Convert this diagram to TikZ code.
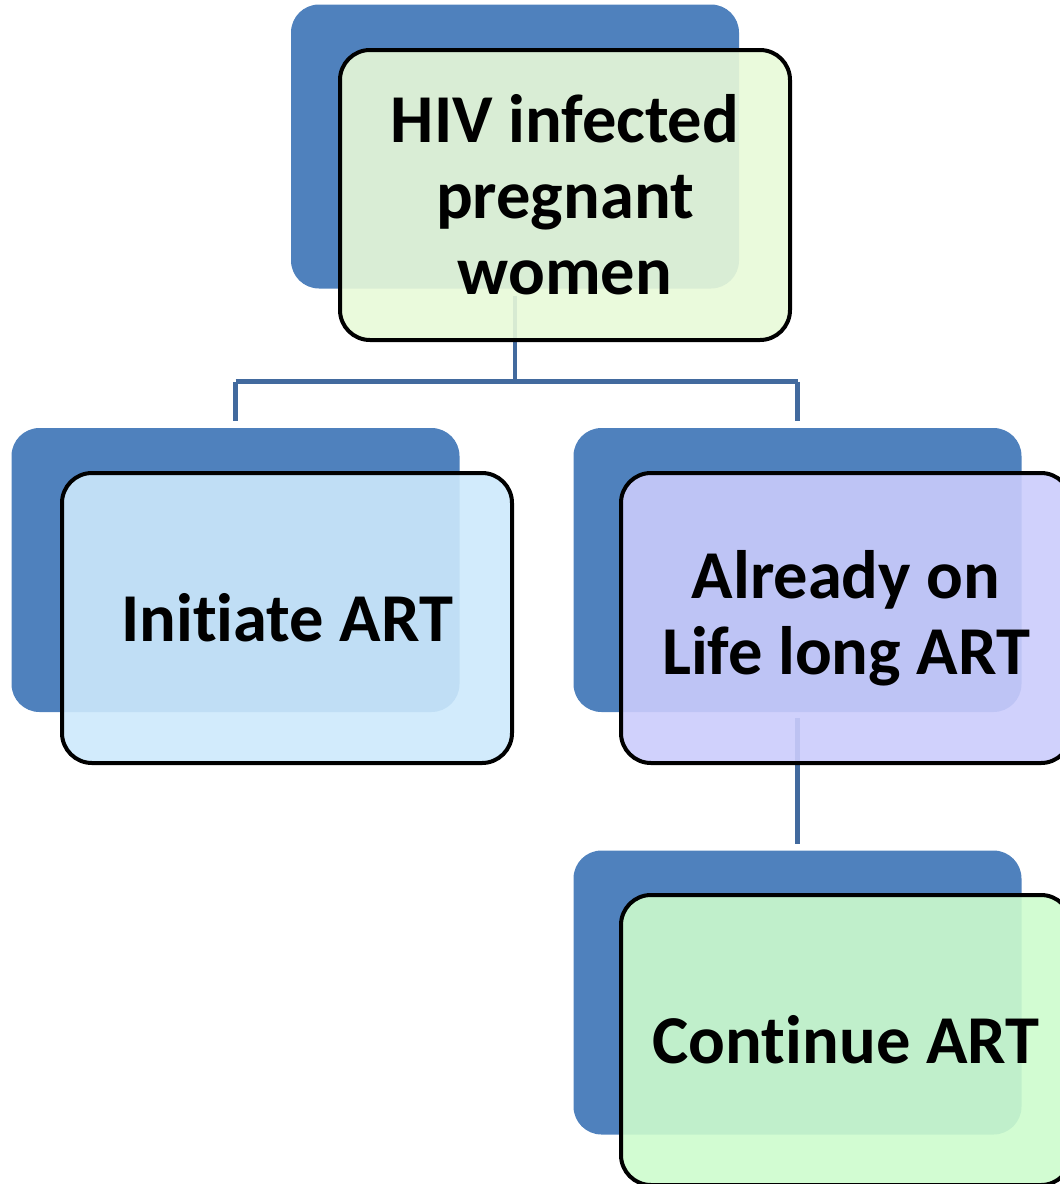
\documentclass[tikz,border=0pt]{standalone}
\usepackage{fontspec}
\setmainfont{Carlito}[Ligatures={NoCommon}]
\definecolor{backblue}{RGB}{79,129,189}
\definecolor{connblue}{RGB}{66,106,158}
\definecolor{fillA}{RGB}{232,249,216}
\definecolor{fillB}{RGB}{205,233,252}
\definecolor{fillC}{RGB}{203,204,252}
\definecolor{fillD}{RGB}{205,252,205}
\begin{document}
\begin{tikzpicture}[x=1pt,y=-1pt,
  backbox/.style={rectangle, fill=backblue, draw=none, minimum width=448pt, minimum height=284pt, inner sep=0pt, rounded corners=28pt},
  frontbox/.style={rectangle, draw=black, line width=4pt, fill opacity=0.9, text opacity=1, minimum width=450pt, minimum height=290pt, inner sep=0pt, rounded corners=30pt, align=center, font=\bfseries\fontsize{68.5}{76}\selectfont},
  conn/.style={draw=connblue, line width=4.5pt}]
\clip (0,0) rectangle (1060,1184);
% back boxes
\node[backbox] (b1) at (515,146.5) {};
\node[backbox] (b2) at (235.5,570) {};
\node[backbox] (b3) at (797.5,570) {};
\node[backbox] (b4) at (797.5,992.5) {};
% connectors
\path (b1.south) ++(0,93) coordinate (j);
\draw[conn] ([yshift=-7pt]b1.south) -- (j);
\draw[conn] (j -| b2.north) -- (j -| b3.north);
\draw[conn] (j -| b2.north) -- ([yshift=7pt]b2.north);
\draw[conn] (j -| b3.north) -- ([yshift=7pt]b3.north);
\draw[conn] ([yshift=-6pt]b3.south) -- ([yshift=6pt]b4.north);
% front boxes
\node[frontbox, fill=fillA] (f1) at (565,195) {HIV infected\\pregnant\\women};
\node[frontbox, fill=fillB] (f2) at (287,618) {Initiate ART};
\node[frontbox, fill=fillC] (f3) at (846,618) {Already on\\Life long ART};
\node[frontbox, fill=fillD] (f4) at (846,1040) {Continue ART};
\end{tikzpicture}
\end{document}
